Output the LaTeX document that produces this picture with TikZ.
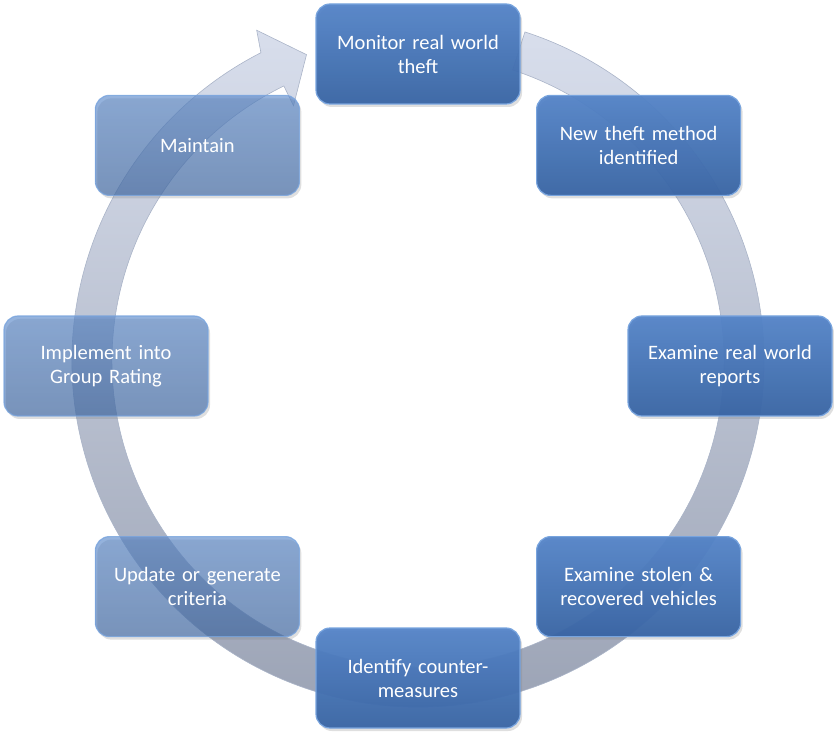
\documentclass[tikz,border=0pt]{standalone}
\usepackage{fontspec}
\setmainfont{Carlito}
\usetikzlibrary{positioning}
\usetikzlibrary{calc}
\usetikzlibrary{shadows}

\definecolor{boxtop}{RGB}{84,132,200}
\definecolor{boxbottom}{RGB}{56,100,164}
\definecolor{boxedge}{RGB}{120,164,222}
\definecolor{ringtop}{RGB}{216,222,236}
\definecolor{ringbottom}{RGB}{152,160,178}
\definecolor{ringedge}{RGB}{170,180,200}

\begin{document}
\begin{tikzpicture}[
    x=1pt, y=1pt,
    stepbox/.style={rectangle, rounded corners=14pt, draw=boxedge, line width=1.2pt,
        top color=boxtop, bottom color=boxbottom, text=white, text opacity=1,
        minimum width=204pt, minimum height=100pt, text width=194pt, align=center,
        font=\fontsize{20.5}{24}\selectfont,
        drop shadow={opacity=0.25, shadow xshift=2pt, shadow yshift=-3pt}},
    front/.style={fill opacity=0.95},
    back/.style={fill opacity=0.62, draw opacity=0.8},
    ring/.style={top color=ringtop, bottom color=ringbottom, draw=ringedge, line width=0.6pt},
]
    \useasboundingbox (0,0) rectangle (834,731);
    \coordinate (C) at (418,365);
    \coordinate (R) at (418,370);

    % cycle arrow behind the steps
    \path[ring] ($(R)+(72:346pt)$) arc[start angle=72, end angle=-243, radius=346pt]
        -- ($(R)+(116:368pt)$) -- ($(R)+(110:326pt)$) -- ($(R)+(116:284pt)$)
        -- ($(R)+(116:306pt)$) arc[start angle=-244, end angle=72, radius=306pt] -- cycle;

    \node[stepbox, front] (S1) at ($(C)+(90:312)$) {Monitor real world\\theft};
    \node[stepbox, front] (S2) at ($(C)+(45:312)$) {New theft method\\identified};
    \node[stepbox, front] (S3) at ($(C)+(0:312)$) {Examine real world\\reports};
    \node[stepbox, front] (S4) at ($(C)+(-45:312)$) {Examine stolen \&\\recovered vehicles};
    \node[stepbox, front] (S5) at ($(C)+(-90:312)$) {Identify counter-\\measures};
    \node[stepbox, back] (S6) at ($(C)+(-135:312)$) {Update or generate\\criteria};
    \node[stepbox, back] (S7) at ($(C)+(180:312)$) {Implement into\\Group Rating};
    \node[stepbox, back] (S8) at ($(C)+(135:312)$) {Maintain};
\end{tikzpicture}
\end{document}
